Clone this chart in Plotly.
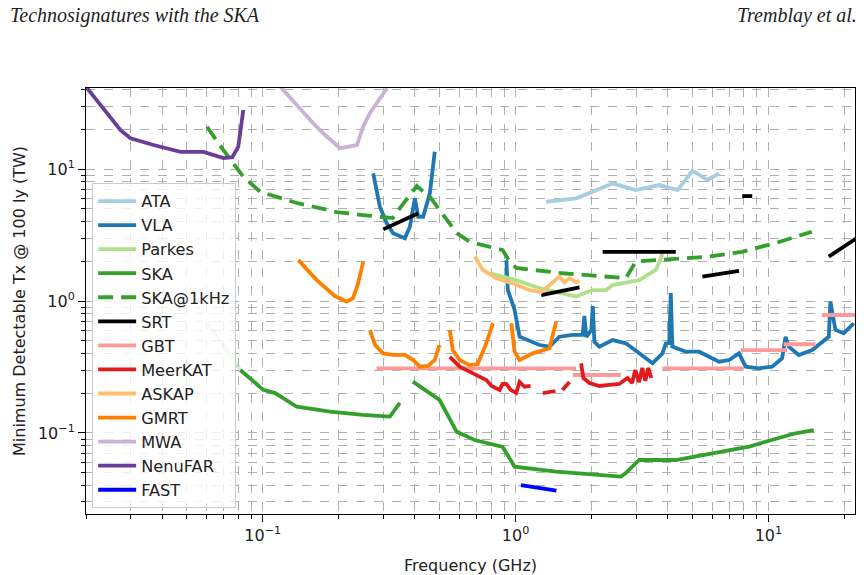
import numpy as np
import plotly.graph_objects as go

# ---------------- data (frequency in GHz, power in TW) ----------------
ATA_f = [1.32, 1.735, 2.02, 2.42, 2.99, 3.70, 4.37, 5.01, 5.74, 6.38]
ATA_p = [5.65, 6.0, 6.73, 7.79, 6.93, 7.56, 6.93, 9.71, 8.26, 9.28]

VLA_f = [0.2735, 0.2906, 0.309, 0.328, 0.365, 0.382, 0.3997, 0.412, 0.431, 0.458, 0.479, None,
         0.919, 0.932, 0.991, 1.037, 1.243, 1.362, 1.49, 1.683, 1.843, 1.871, 1.905, 1.994, 2.02,
         2.05, 2.145, 2.42, 2.73, 3.08, 3.48, 3.81, 3.93, 4.05, 4.11, 4.17, 4.71, 5.32, 6.38, 6.99,
         7.65, 8.13, 9.17, 10.35, 11.33, 11.69, 12.04, 13.19, 14.89, 17.33, 17.58, 18.41, 19.85, 21.74]
VLA_p = [9.28, 5.18, 3.90, 3.26, 2.99, 3.65, 6.0, 4.35, 4.35, 6.54, 13.5, None,
         2.04, 1.21, 0.855, 0.536, 0.464, 0.451, 0.536, 0.553, 0.553, 0.77, 0.534, 0.603, 0.917,
         0.489, 0.451, 0.506, 0.478, 0.401, 0.337, 0.401, 0.478, 0.48, 1.15, 0.451, 0.413, 0.413,
         0.347, 0.357, 0.401, 0.318, 0.309, 0.318, 0.368, 0.536, 0.451, 0.390, 0.425, 0.536, 0.988,
         0.603, 0.569, 0.678]

Parkes_f = [0.79, 1.006, 1.243, 1.537, 1.735, 2.02, 2.28, 2.42, 2.73, 3.08, 3.28, 3.59, 3.76, 3.84]
Parkes_p = [1.62, 1.44, 1.25, 1.14, 1.08, 1.21, 1.21, 1.32, 1.37, 1.44, 1.55, 1.72, 2.12, 2.43]

SKA_faint_f = [0.0602, 0.0815]
SKA_faint_p = [0.681, 0.300]
SKA_f = [0.0815, 0.1005, 0.112, 0.1364, 0.1846, 0.249, 0.3184, 0.3486, None,
         0.3925, 0.50, 0.585, 0.689, 0.889, 0.991, 1.447, 2.61, 2.73, 3.08, 4.30, 6.19, 8.38,
         10.3, 12.8, 15.1]
SKA_p = [0.300, 0.212, 0.2006, 0.158, 0.145, 0.137, 0.133, 0.169, None,
         0.245, 0.178, 0.102, 0.0885, 0.0784, 0.0556, 0.0509, 0.0467, 0.0497, 0.0624, 0.0624,
         0.0702, 0.0787, 0.0885, 0.0995, 0.105]

SKA1k_f = [0.0602, 0.0699, 0.0838, 0.0977, 0.1364, 0.1962, 0.249, 0.327, 0.3486, 0.407, 0.46,
           0.515, 0.585, 0.658, 0.889, 0.947, 1.006, 1.49, 2.73, 2.99, 3.70, 5.82, 7.86, 10.67, 14.85]
SKA1k_p = [20.9, 13.9, 8.74, 6.73, 5.53, 4.72, 4.48, 4.25, 5.06, 7.43, 6.1,
           4.6, 3.27, 2.81, 2.43, 1.99, 1.78, 1.63, 1.49, 1.99, 2.04, 2.17, 2.36, 2.75, 3.35]

SRT_f = [0.2996, 0.412, None, 1.263, 1.79, None, 2.21, 4.30, None, 5.48, 7.65, None,
         7.88, 8.63, None, 17.33, 23.0]
SRT_p = [3.49, 4.62, None, 1.11, 1.27, None, 2.36, 2.36, None, 1.53, 1.69, None,
         6.24, 6.24, None, 2.17, 3.11]

GBT_f = [0.282, 1.735, None, 1.683, 2.61, None, 3.81, 8.0, None, 7.77, 11.87, None,
         11.5, 15.35, None, 16.3, 26.0]
GBT_p = [0.309, 0.309, None, 0.275, 0.275, None, 0.309, 0.309, None, 0.425, 0.425, None,
         0.47, 0.47, None, 0.783, 0.783]

MeerKAT_f = [0.549, 0.601, 0.678, 0.766, 0.804, 0.865, 0.889, 0.919, 0.956, 1.006, 1.037, 1.085,
             1.146, None, 1.281, 1.438, None, 1.532, 1.633, None, 1.816, 1.854, 1.96, 2.145,
             2.35, 2.57, 2.77, 2.89, 2.975, 3.08, 3.17, 3.26, 3.35, 3.44]
MeerKAT_p = [0.377, 0.318, 0.283, 0.252, 0.227, 0.212, 0.235, 0.235, 0.212, 0.201, 0.2434, 0.224,
             0.227, None, 0.2, 0.208, None, 0.212, 0.2434, None, 0.337, 0.261, 0.239, 0.227,
             0.231, 0.235, 0.261, 0.239, 0.300, 0.243, 0.311, 0.248, 0.311, 0.261]

ASKAP_f = [0.689, 0.743, 0.839, 0.976, 1.136, 1.263, 1.362, 1.49, 1.561, 1.633, 1.735, 1.79]
ASKAP_p = [2.17, 1.72, 1.486, 1.36, 1.21, 1.17, 1.32, 1.53, 1.39, 1.486, 1.39, 1.42]

GMRT_f = [0.1384, 0.1636, 0.193, 0.2149, 0.2275, 0.238, 0.2497, None,
          0.2655, 0.278, 0.2996, 0.328, 0.365, 0.3935, 0.418, 0.4496, 0.479, 0.5, None,
          0.549, 0.5645, 0.601, 0.658, 0.708, 0.7614, 0.8137, None,
          0.962, 0.991, 1.037, 1.17, 1.362, 1.447]
GMRT_p = [2.04, 1.44, 1.09, 0.988, 1.05, 1.345, 1.98, None,
          0.603, 0.464, 0.401, 0.39, 0.39, 0.357, 0.318, 0.322, 0.357, 0.464, None,
          0.603, 0.425, 0.357, 0.327, 0.333, 0.464, 0.678, None,
          0.678, 0.413, 0.357, 0.401, 0.438, 0.697]

MWA_f = [0.115, 0.158, 0.1764, 0.2021, 0.236, 0.249, 0.2655, 0.31]
MWA_p = [44, 22.3, 18.1, 14.4, 15.2, 20.8, 26.6, 41]

NenuFAR_f = [0.02, 0.0274, 0.03, 0.037, 0.0473, 0.0583, 0.0699, 0.0758, 0.080, 0.0838]
NenuFAR_p = [42, 19.7, 17.1, 15.2, 13.5, 13.5, 12.1, 12.3, 14.7, 28.0]

FAST_f = [1.05, 1.45]
FAST_p = [0.0402, 0.0366]

x_tick_vals = [0.1, 1, 10]
x_tick_text = ["10<sup>\u22121</sup>", "10<sup>0</sup>", "10<sup>1</sup>"]
y_tick_vals = [0.1, 1, 10]
y_tick_text = ["10<sup>\u22121</sup>", "10<sup>0</sup>", "10<sup>1</sup>"]

# ---------------- figure ----------------
LW = 3.8
series = [
    ("ATA", ATA_f, ATA_p, "#a6cee3", "solid"),
    ("VLA", VLA_f, VLA_p, "#1f78b4", "solid"),
    ("Parkes", Parkes_f, Parkes_p, "#b2df8a", "solid"),
    ("SKA", SKA_f, SKA_p, "#33a02c", "solid"),
    ("SKA@1kHz", SKA1k_f, SKA1k_p, "#33a02c", "15px,8px"),
    ("SRT", SRT_f, SRT_p, "#000000", "solid"),
    ("GBT", GBT_f, GBT_p, "#fb9a99", "solid"),
    ("MeerKAT", MeerKAT_f, MeerKAT_p, "#e31a1c", "solid"),
    ("ASKAP", ASKAP_f, ASKAP_p, "#fdbf6f", "solid"),
    ("GMRT", GMRT_f, GMRT_p, "#ff7f00", "solid"),
    ("MWA", MWA_f, MWA_p, "#cab2d6", "solid"),
    ("NenuFAR", NenuFAR_f, NenuFAR_p, "#6a3d9a", "solid"),
    ("FAST", FAST_f, FAST_p, "#0000ff", "solid"),
]

fig = go.Figure()
fig.add_trace(go.Scatter(x=SKA_faint_f, y=SKA_faint_p, mode="lines", showlegend=False,
                         line=dict(color="rgba(51,160,44,0.22)", width=LW), hoverinfo="skip"))
for name, fx, py, col, dash in series:
    fig.add_trace(go.Scatter(x=fx, y=py, mode="lines", name=name,
                             line=dict(color=col, width=LW, dash=dash)))

def minor_vals(lo, hi):
    out = []
    for e in range(lo, hi):
        for m in range(2, 10):
            out.append(m * 10.0 ** e)
    return out

grid = dict(showgrid=True, gridcolor="#b0b0b0", griddash="dash", gridwidth=1)
font = "DejaVu Sans"

fig.update_xaxes(type="log", range=[np.log10(0.02), np.log10(22)],
                 tickmode="array", tickvals=x_tick_vals, ticktext=x_tick_text,
                 ticks="outside", ticklen=7, tickcolor="black",
                 showline=True, mirror=True, linecolor="black", linewidth=1,
                 minor=dict(tickmode="array", tickvals=minor_vals(-2, 2), ticks="outside",
                            ticklen=4, tickcolor="black", **grid),
                 title=dict(text="Frequency (GHz)", font=dict(size=16, family=font, color="#222")),
                 tickfont=dict(size=16, family=font, color="#222"),
                 automargin=False, zeroline=False, **grid)
fig.update_yaxes(type="log", range=[-1.614, 1.614],
                 tickmode="array", tickvals=y_tick_vals, ticktext=y_tick_text,
                 ticks="outside", ticklen=7, tickcolor="black",
                 showline=True, mirror=True, linecolor="black", linewidth=1,
                 minor=dict(tickmode="array", tickvals=minor_vals(-2, 2), ticks="outside",
                            ticklen=4, tickcolor="black", **grid),
                 title=dict(text="Minimum Detectable Tx @ 100 ly (TW)", standoff=8,
                            font=dict(size=16, family=font, color="#222")),
                 tickfont=dict(size=16, family=font, color="#222"),
                 automargin=False, zeroline=False, **grid)

fig.update_layout(
    width=867, height=575,
    margin=dict(l=86, r=12, t=88, b=61),
    paper_bgcolor="white", plot_bgcolor="white",
    showlegend=True,
    legend=dict(x=0.008, y=0.777, xanchor="left", yanchor="top", itemwidth=38,
                bgcolor="rgba(255,255,255,0.8)", bordercolor="#cccccc", borderwidth=1,
                font=dict(size=16.2, family=font, color="#222")),
    annotations=[
        dict(text="<i>Technosignatures with the SKA</i>", xref="paper", yref="paper",
             x=-0.1014, y=1.171, xanchor="left", yanchor="middle", showarrow=False,
             font=dict(size=20, family="Liberation Serif", color="#222")),
        dict(text="<i>Tremblay et al.</i>", xref="paper", yref="paper",
             x=1.0052, y=1.171, xanchor="right", yanchor="middle", showarrow=False,
             font=dict(size=20, family="Liberation Serif", color="#222")),
    ],
)

fig.write_html("out.html")
